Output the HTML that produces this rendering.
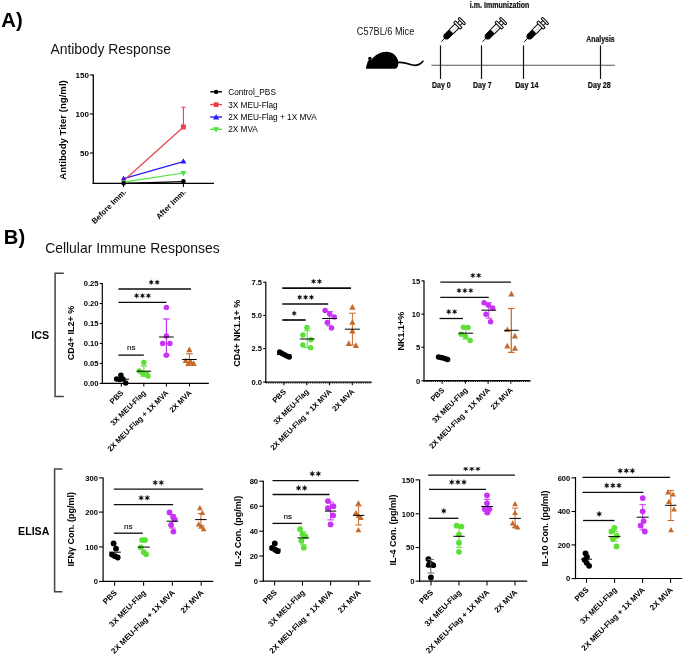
<!DOCTYPE html>
<html><head><meta charset="utf-8"><title>Figure</title>
<style>html,body{margin:0;padding:0;background:#fff}svg{display:block;will-change:transform}</style></head>
<body>
<svg width="685" height="655" viewBox="0 0 685 655">
<rect width="685" height="655" fill="#fff"/>
<text x="1.3" y="27.1" font-family="Liberation Sans, sans-serif" font-size="20.2" font-weight="bold" text-anchor="start" fill="#000" >A)</text>
<text x="50.4" y="53.9" font-family="Liberation Sans, sans-serif" font-size="13.9"  text-anchor="start" fill="#111" >Antibody Response</text>
<text x="3.8" y="244.2" font-family="Liberation Sans, sans-serif" font-size="20.2" font-weight="bold" text-anchor="start" fill="#000" >B)</text>
<text x="45.2" y="252.9" font-family="Liberation Sans, sans-serif" font-size="13.9"  text-anchor="start" fill="#111" >Cellular Immune Responses</text>
<line x1="93.3" y1="74.4" x2="93.3" y2="183.9" stroke="#000" stroke-width="1.3"/>
<line x1="92.7" y1="183.3" x2="214.0" y2="183.3" stroke="#000" stroke-width="1.3"/>
<line x1="89.9" y1="75.0" x2="93.3" y2="75.0" stroke="#000" stroke-width="1.1"/>
<text x="88.9" y="77.9" font-family="Liberation Sans, sans-serif" font-size="8" font-weight="bold" text-anchor="end" fill="#000" >150</text>
<line x1="89.9" y1="114.0" x2="93.3" y2="114.0" stroke="#000" stroke-width="1.1"/>
<text x="88.9" y="116.9" font-family="Liberation Sans, sans-serif" font-size="8" font-weight="bold" text-anchor="end" fill="#000" >100</text>
<line x1="89.9" y1="153.0" x2="93.3" y2="153.0" stroke="#000" stroke-width="1.1"/>
<text x="88.9" y="155.9" font-family="Liberation Sans, sans-serif" font-size="8" font-weight="bold" text-anchor="end" fill="#000" >50</text>
<line x1="123.6" y1="183.3" x2="123.6" y2="186.9" stroke="#000" stroke-width="1.1"/>
<text x="126.6" y="192.5" font-family="Liberation Sans, sans-serif" font-size="7.8" font-weight="bold" text-anchor="end" fill="#000" transform="rotate(-45 126.6 192.5)" >Before Imm.</text>
<line x1="183.4" y1="183.3" x2="183.4" y2="186.9" stroke="#000" stroke-width="1.1"/>
<text x="186.4" y="192.5" font-family="Liberation Sans, sans-serif" font-size="7.8" font-weight="bold" text-anchor="end" fill="#000" transform="rotate(-45 186.4 192.5)" >After Imm.</text>
<text x="66.4" y="130.0" font-family="Liberation Sans, sans-serif" font-size="9.6" font-weight="bold" text-anchor="middle" fill="#000" transform="rotate(-90 66.4 130.0)" >Antibody Titer (ng/ml)</text>
<line x1="123.6" y1="183.3" x2="183.4" y2="181.6" stroke="#000" stroke-width="1.2"/>
<line x1="123.6" y1="182.2" x2="183.4" y2="173.0" stroke="#4fe33c" stroke-width="1.2"/>
<line x1="123.6" y1="178.6" x2="183.4" y2="161.7" stroke="#2a1cf7" stroke-width="1.2"/>
<line x1="123.6" y1="180.8" x2="183.4" y2="127.0" stroke="#e8434f" stroke-width="1.2"/>
<line x1="183.4" y1="107.2" x2="183.4" y2="127.0" stroke="#e8434f" stroke-width="1.1"/>
<line x1="181.4" y1="107.2" x2="185.4" y2="107.2" stroke="#e8434f" stroke-width="1.1"/>
<rect x="180.9" y="124.5" width="5" height="5" fill="#e8434f"/>
<rect x="121.8" y="179.0" width="3.6" height="3.6" fill="#e8434f"/>
<path d="M183.4 158.2 L186.4 163.6 L180.4 163.6Z" fill="#2a1cf7"/>
<path d="M123.6 175.6 L126.2 180.3 L121.0 180.3Z" fill="#2a1cf7"/>
<path d="M183.4 176.4 L186.4 171.0 L180.4 171.0Z" fill="#4fe33c"/>
<path d="M123.6 184.6 L125.8 180.6 L121.4 180.6Z" fill="#4fe33c"/>
<circle cx="183.4" cy="181.4" r="2.3" fill="#000"/>
<circle cx="123.6" cy="183.3" r="2.3" fill="#000"/>
<line x1="210.2" y1="91.8" x2="222.0" y2="91.8" stroke="#000" stroke-width="1.4"/>
<circle cx="216.1" cy="91.9" r="2.2" fill="#000"/>
<text x="228.2" y="94.8" font-family="Liberation Sans, sans-serif" font-size="8.25"  text-anchor="start" fill="#000" >Control_PBS</text>
<line x1="210.2" y1="104.6" x2="222.0" y2="104.6" stroke="#e8434f" stroke-width="1.4"/>
<rect x="213.7" y="102.25" width="4.8" height="4.8" fill="#e8434f"/>
<text x="228.2" y="107.6" font-family="Liberation Sans, sans-serif" font-size="8.25"  text-anchor="start" fill="#000" >3X MEU-Flag</text>
<line x1="210.2" y1="117.0" x2="222.0" y2="117.0" stroke="#2a1cf7" stroke-width="1.4"/>
<path d="M216.1 114.0 L219.2 119.4 L213.0 119.4Z" fill="#2a1cf7"/>
<text x="228.2" y="120.0" font-family="Liberation Sans, sans-serif" font-size="8.25"  text-anchor="start" fill="#000" >2X MEU-Flag + 1X MVA</text>
<line x1="210.2" y1="129.3" x2="222.0" y2="129.3" stroke="#4fe33c" stroke-width="1.4"/>
<path d="M216.1 132.7 L219.2 127.2 L213.0 127.2Z" fill="#4fe33c"/>
<text x="228.2" y="132.3" font-family="Liberation Sans, sans-serif" font-size="8.25"  text-anchor="start" fill="#000" >2X MVA</text>
<text x="356.8" y="34.9" font-family="Liberation Sans, sans-serif" font-size="10.0"  text-anchor="start" fill="#111" textLength="57.5" lengthAdjust="spacingAndGlyphs">C57BL/6 Mice</text>
<line x1="431.4" y1="65.3" x2="614.8" y2="65.3" stroke="#555" stroke-width="1.1"/>
<line x1="440.5" y1="45.4" x2="440.5" y2="78.9" stroke="#111" stroke-width="1.2"/>
<line x1="481.5" y1="45.4" x2="481.5" y2="78.9" stroke="#111" stroke-width="1.2"/>
<line x1="523.5" y1="45.4" x2="523.5" y2="78.9" stroke="#111" stroke-width="1.2"/>
<line x1="600.5" y1="45.4" x2="600.5" y2="78.9" stroke="#111" stroke-width="1.2"/>
<text x="441.3" y="87.5" font-family="Liberation Sans, sans-serif" font-size="8.6" font-weight="bold" text-anchor="middle" fill="#111" textLength="18.6" lengthAdjust="spacingAndGlyphs" stroke="#111" stroke-width="0.22">Day 0</text>
<text x="482.3" y="87.5" font-family="Liberation Sans, sans-serif" font-size="8.6" font-weight="bold" text-anchor="middle" fill="#111" textLength="18.6" lengthAdjust="spacingAndGlyphs" stroke="#111" stroke-width="0.22">Day 7</text>
<text x="526.8" y="87.5" font-family="Liberation Sans, sans-serif" font-size="8.6" font-weight="bold" text-anchor="middle" fill="#111" textLength="23.3" lengthAdjust="spacingAndGlyphs" stroke="#111" stroke-width="0.22">Day 14</text>
<text x="599.3" y="88.0" font-family="Liberation Sans, sans-serif" font-size="8.6" font-weight="bold" text-anchor="middle" fill="#111" textLength="23.0" lengthAdjust="spacingAndGlyphs" stroke="#111" stroke-width="0.22">Day 28</text>
<text x="600.5" y="41.6" font-family="Liberation Sans, sans-serif" font-size="8.6" font-weight="bold" text-anchor="middle" fill="#111" textLength="28.4" lengthAdjust="spacingAndGlyphs" stroke="#111" stroke-width="0.22">Analysis</text>
<text x="499.6" y="7.6" font-family="Liberation Sans, sans-serif" font-size="8.4" font-weight="bold" text-anchor="middle" fill="#111" textLength="59.5" lengthAdjust="spacingAndGlyphs" stroke="#111" stroke-width="0.22">i.m. Immunization</text>
<path d="M366.0 67.3 C366.5 65.4 367.4 62.6 368.2 60.6 L371.6 59.4 C375 55 380.5 51.7 386.5 51.7 C392.6 51.7 397.3 55.8 398.3 61.6 C398.7 64 398.1 66.8 396.7 68 C396.1 68.5 395.5 68.8 394.9 68.8 L367.2 68.8 C366.1 68.8 365.7 68.2 366.0 67.3 Z" fill="#000"/>
<circle cx="369.9" cy="58.6" r="1.75" fill="#000"/>
<path d="M397.6 62.5 C402 62 406 63 409.6 64.3 C413.6 65.7 417.4 65.8 420.2 63.8 C421.5 62.9 422.4 62 422.9 61.3" fill="none" stroke="#000" stroke-width="1.7" stroke-linecap="round"/>
<g transform="translate(441.2 41.7) rotate(45)" stroke="#000" fill="none" stroke-linejoin="round">
<line x1="0" y1="0" x2="0" y2="-5" stroke-width="0.9"/>
<path d="M-0.9 -4.6 L0.9 -4.6 L2.9 -6.8 L2.9 -14 L-2.9 -14 L-2.9 -6.8Z" fill="#000" stroke-width="0.8"/>
<path d="M-2.9 -14 V-22.4 M2.9 -14 V-22.4" stroke-width="1.0"/>
<path d="M1.2 -15.6 h-1.6 M1.2 -17.4 h-1.6 M1.2 -19.2 h-1.6 M1.2 -21 h-1.6" stroke="#555" stroke-width="0.45"/>
<path d="M-4.6 -22.4 Q-5.2 -23.6 -4.6 -24.8 H4.6 Q5.2 -23.6 4.6 -22.4Z" fill="#fff" stroke-width="0.95"/>
<path d="M-1.9 -24.8 V-28.2 M1.9 -24.8 V-28.2" stroke-width="0.95"/>
<rect x="-4.4" y="-30.2" width="8.8" height="2.1" rx="0.9" fill="#fff" stroke-width="0.95"/>
</g>
<g transform="translate(482.5 41.7) rotate(45)" stroke="#000" fill="none" stroke-linejoin="round">
<line x1="0" y1="0" x2="0" y2="-5" stroke-width="0.9"/>
<path d="M-0.9 -4.6 L0.9 -4.6 L2.9 -6.8 L2.9 -14 L-2.9 -14 L-2.9 -6.8Z" fill="#000" stroke-width="0.8"/>
<path d="M-2.9 -14 V-22.4 M2.9 -14 V-22.4" stroke-width="1.0"/>
<path d="M1.2 -15.6 h-1.6 M1.2 -17.4 h-1.6 M1.2 -19.2 h-1.6 M1.2 -21 h-1.6" stroke="#555" stroke-width="0.45"/>
<path d="M-4.6 -22.4 Q-5.2 -23.6 -4.6 -24.8 H4.6 Q5.2 -23.6 4.6 -22.4Z" fill="#fff" stroke-width="0.95"/>
<path d="M-1.9 -24.8 V-28.2 M1.9 -24.8 V-28.2" stroke-width="0.95"/>
<rect x="-4.4" y="-30.2" width="8.8" height="2.1" rx="0.9" fill="#fff" stroke-width="0.95"/>
</g>
<g transform="translate(524.3 41.7) rotate(45)" stroke="#000" fill="none" stroke-linejoin="round">
<line x1="0" y1="0" x2="0" y2="-5" stroke-width="0.9"/>
<path d="M-0.9 -4.6 L0.9 -4.6 L2.9 -6.8 L2.9 -14 L-2.9 -14 L-2.9 -6.8Z" fill="#000" stroke-width="0.8"/>
<path d="M-2.9 -14 V-22.4 M2.9 -14 V-22.4" stroke-width="1.0"/>
<path d="M1.2 -15.6 h-1.6 M1.2 -17.4 h-1.6 M1.2 -19.2 h-1.6 M1.2 -21 h-1.6" stroke="#555" stroke-width="0.45"/>
<path d="M-4.6 -22.4 Q-5.2 -23.6 -4.6 -24.8 H4.6 Q5.2 -23.6 4.6 -22.4Z" fill="#fff" stroke-width="0.95"/>
<path d="M-1.9 -24.8 V-28.2 M1.9 -24.8 V-28.2" stroke-width="0.95"/>
<rect x="-4.4" y="-30.2" width="8.8" height="2.1" rx="0.9" fill="#fff" stroke-width="0.95"/>
</g>
<path d="M63.8 273.2 H55.1 V396.6 H63.8" fill="none" stroke="#444" stroke-width="1.5"/>
<path d="M62.4 469.1 H54.6 V591.7 H62.4" fill="none" stroke="#444" stroke-width="1.5"/>
<text x="40.2" y="338.8" font-family="Liberation Sans, sans-serif" font-size="10.7" font-weight="bold" text-anchor="middle" fill="#000" >ICS</text>
<text x="33.7" y="535.0" font-family="Liberation Sans, sans-serif" font-size="10.6" font-weight="bold" text-anchor="middle" fill="#000" >ELISA</text>
<line x1="102.3" y1="283.0" x2="102.3" y2="384.0" stroke="#000" stroke-width="1.2"/>
<line x1="101.7" y1="383.4" x2="208.8" y2="383.4" stroke="#000" stroke-width="1.2"/>
<line x1="99.7" y1="283.5" x2="102.3" y2="283.5" stroke="#000" stroke-width="1.1"/>
<text x="98.5" y="286.2" font-family="Liberation Sans, sans-serif" font-size="7.6" font-weight="bold" text-anchor="end" fill="#000" >0.25</text>
<line x1="99.7" y1="303.5" x2="102.3" y2="303.5" stroke="#000" stroke-width="1.1"/>
<text x="98.5" y="306.2" font-family="Liberation Sans, sans-serif" font-size="7.6" font-weight="bold" text-anchor="end" fill="#000" >0.20</text>
<line x1="99.7" y1="323.5" x2="102.3" y2="323.5" stroke="#000" stroke-width="1.1"/>
<text x="98.5" y="326.2" font-family="Liberation Sans, sans-serif" font-size="7.6" font-weight="bold" text-anchor="end" fill="#000" >0.15</text>
<line x1="99.7" y1="343.4" x2="102.3" y2="343.4" stroke="#000" stroke-width="1.1"/>
<text x="98.5" y="346.1" font-family="Liberation Sans, sans-serif" font-size="7.6" font-weight="bold" text-anchor="end" fill="#000" >0.10</text>
<line x1="99.7" y1="363.4" x2="102.3" y2="363.4" stroke="#000" stroke-width="1.1"/>
<text x="98.5" y="366.1" font-family="Liberation Sans, sans-serif" font-size="7.6" font-weight="bold" text-anchor="end" fill="#000" >0.05</text>
<line x1="99.7" y1="383.4" x2="102.3" y2="383.4" stroke="#000" stroke-width="1.1"/>
<text x="98.5" y="386.1" font-family="Liberation Sans, sans-serif" font-size="7.6" font-weight="bold" text-anchor="end" fill="#000" >0.00</text>
<line x1="121.3" y1="383.4" x2="121.3" y2="386.4" stroke="#000" stroke-width="1.05"/>
<text x="123.9" y="393.4" font-family="Liberation Sans, sans-serif" font-size="7.6" font-weight="bold" text-anchor="end" fill="#000" transform="rotate(-45 123.9 393.4)" >PBS</text>
<line x1="143.8" y1="383.4" x2="143.8" y2="386.4" stroke="#000" stroke-width="1.05"/>
<text x="146.4" y="393.4" font-family="Liberation Sans, sans-serif" font-size="7.6" font-weight="bold" text-anchor="end" fill="#000" transform="rotate(-45 146.4 393.4)" >3X MEU-Flag</text>
<line x1="166.4" y1="383.4" x2="166.4" y2="386.4" stroke="#000" stroke-width="1.05"/>
<text x="169.0" y="393.4" font-family="Liberation Sans, sans-serif" font-size="7.6" font-weight="bold" text-anchor="end" fill="#000" transform="rotate(-45 169.0 393.4)" >2X MEU-Flag + 1X MVA</text>
<line x1="189.5" y1="383.4" x2="189.5" y2="386.4" stroke="#000" stroke-width="1.05"/>
<text x="192.1" y="393.4" font-family="Liberation Sans, sans-serif" font-size="7.6" font-weight="bold" text-anchor="end" fill="#000" transform="rotate(-45 192.1 393.4)" >2X MVA</text>
<circle cx="120.9" cy="375.2" r="2.75" fill="#000"/>
<circle cx="116.6" cy="379.0" r="2.75" fill="#000"/>
<circle cx="119.7" cy="379.6" r="2.75" fill="#000"/>
<circle cx="122.9" cy="379.0" r="2.75" fill="#000"/>
<circle cx="125.7" cy="383.0" r="2.75" fill="#000"/>
<line x1="117.6" y1="379.2" x2="129.0" y2="379.2" stroke="#000" stroke-width="1.0"/>
<circle cx="143.9" cy="362.5" r="2.75" fill="#5ddf38"/>
<circle cx="139.3" cy="370.9" r="2.75" fill="#5ddf38"/>
<circle cx="142.7" cy="373.2" r="2.75" fill="#5ddf38"/>
<circle cx="146.6" cy="373.9" r="2.75" fill="#5ddf38"/>
<circle cx="148.0" cy="375.9" r="2.75" fill="#5ddf38"/>
<line x1="143.9" y1="366.0" x2="143.9" y2="376.3" stroke="#5ddf38" stroke-width="1.1"/>
<line x1="140.6" y1="366.0" x2="147.2" y2="366.0" stroke="#5ddf38" stroke-width="1.1"/>
<line x1="140.6" y1="376.3" x2="147.2" y2="376.3" stroke="#5ddf38" stroke-width="1.1"/>
<line x1="136.7" y1="371.2" x2="151.1" y2="371.2" stroke="#000" stroke-width="1.0"/>
<circle cx="166.4" cy="307.6" r="2.75" fill="#c733f5"/>
<circle cx="166.4" cy="336.0" r="2.75" fill="#c733f5"/>
<circle cx="162.7" cy="343.4" r="2.75" fill="#c733f5"/>
<circle cx="169.9" cy="343.4" r="2.75" fill="#c733f5"/>
<circle cx="166.4" cy="355.2" r="2.75" fill="#c733f5"/>
<line x1="166.4" y1="319.0" x2="166.4" y2="355.2" stroke="#c733f5" stroke-width="1.2"/>
<line x1="163.1" y1="319.0" x2="169.7" y2="319.0" stroke="#c733f5" stroke-width="1.2"/>
<line x1="163.1" y1="355.2" x2="169.7" y2="355.2" stroke="#c733f5" stroke-width="1.2"/>
<line x1="159.1" y1="337.0" x2="173.7" y2="337.0" stroke="#000" stroke-width="1.0"/>
<path d="M189.4 346.6 L192.5 352.2 L186.3 352.2Z" fill="#c8692a"/>
<path d="M185.7 357.3 L188.8 362.9 L182.6 362.9Z" fill="#c8692a"/>
<path d="M188.3 360.3 L191.4 365.9 L185.2 365.9Z" fill="#c8692a"/>
<path d="M191.0 358.9 L194.1 364.5 L187.9 364.5Z" fill="#c8692a"/>
<path d="M193.7 360.3 L196.8 365.9 L190.6 365.9Z" fill="#c8692a"/>
<line x1="189.4" y1="353.8" x2="189.4" y2="365.5" stroke="#c8692a" stroke-width="1.1"/>
<line x1="186.1" y1="353.8" x2="192.7" y2="353.8" stroke="#c8692a" stroke-width="1.1"/>
<line x1="186.1" y1="365.5" x2="192.7" y2="365.5" stroke="#c8692a" stroke-width="1.1"/>
<line x1="182.1" y1="359.5" x2="196.7" y2="359.5" stroke="#000" stroke-width="1.0"/>
<line x1="118.4" y1="289.0" x2="191.0" y2="289.0" stroke="#0c0c0c" stroke-width="1.3"/>
<polygon points="151.25,279.75 150.73,281.35 149.08,281.00 150.21,282.25 149.08,283.50 150.73,283.15 151.25,284.75 151.77,283.15 153.42,283.50 152.29,282.25 153.42,281.00 151.77,281.35" fill="#0a0a0a" stroke="#0a0a0a" stroke-width="0.35" stroke-linejoin="round"/>
<polygon points="157.15,279.75 156.63,281.35 154.98,281.00 156.11,282.25 154.98,283.50 156.63,283.15 157.15,284.75 157.67,283.15 159.32,283.50 158.19,282.25 159.32,281.00 157.67,281.35" fill="#0a0a0a" stroke="#0a0a0a" stroke-width="0.35" stroke-linejoin="round"/>
<line x1="118.4" y1="302.4" x2="166.4" y2="302.4" stroke="#0c0c0c" stroke-width="1.3"/>
<polygon points="136.60,293.25 136.08,294.85 134.43,294.50 135.56,295.75 134.43,297.00 136.08,296.65 136.60,298.25 137.12,296.65 138.77,297.00 137.64,295.75 138.77,294.50 137.12,294.85" fill="#0a0a0a" stroke="#0a0a0a" stroke-width="0.35" stroke-linejoin="round"/>
<polygon points="142.50,293.25 141.98,294.85 140.33,294.50 141.46,295.75 140.33,297.00 141.98,296.65 142.50,298.25 143.02,296.65 144.67,297.00 143.54,295.75 144.67,294.50 143.02,294.85" fill="#0a0a0a" stroke="#0a0a0a" stroke-width="0.35" stroke-linejoin="round"/>
<polygon points="148.40,293.25 147.88,294.85 146.23,294.50 147.36,295.75 146.23,297.00 147.88,296.65 148.40,298.25 148.92,296.65 150.57,297.00 149.44,295.75 150.57,294.50 148.92,294.85" fill="#0a0a0a" stroke="#0a0a0a" stroke-width="0.35" stroke-linejoin="round"/>
<line x1="118.4" y1="355.1" x2="143.8" y2="355.1" stroke="#0c0c0c" stroke-width="1.3"/>
<text x="131.4" y="350.4" font-family="Liberation Sans, sans-serif" font-size="8.1"  text-anchor="middle" fill="#000" stroke="#000" stroke-width="0.12">ns</text>
<text x="74.4" y="333.0" font-family="Liberation Sans, sans-serif" font-size="9" font-weight="bold" text-anchor="middle" fill="#000" transform="rotate(-90 74.4 333.0)" >CD4+ IL2+ %</text>
<line x1="265.8" y1="281.7" x2="265.8" y2="382.8" stroke="#000" stroke-width="1.2"/>
<line x1="265.2" y1="382.2" x2="371.6" y2="382.2" stroke="#000" stroke-width="1.2"/>
<line x1="265.8" y1="383.0" x2="371.6" y2="383.0" stroke="#000" stroke-width="0.9" stroke-dasharray="1.3 0.9"/>
<line x1="263.2" y1="282.2" x2="265.8" y2="282.2" stroke="#000" stroke-width="1.1"/>
<text x="262.0" y="284.9" font-family="Liberation Sans, sans-serif" font-size="7.6" font-weight="bold" text-anchor="end" fill="#000" >7.5</text>
<line x1="263.2" y1="315.4" x2="265.8" y2="315.4" stroke="#000" stroke-width="1.1"/>
<text x="262.0" y="318.1" font-family="Liberation Sans, sans-serif" font-size="7.6" font-weight="bold" text-anchor="end" fill="#000" >5.0</text>
<line x1="263.2" y1="348.6" x2="265.8" y2="348.6" stroke="#000" stroke-width="1.1"/>
<text x="262.0" y="351.3" font-family="Liberation Sans, sans-serif" font-size="7.6" font-weight="bold" text-anchor="end" fill="#000" >2.5</text>
<line x1="263.2" y1="382.1" x2="265.8" y2="382.1" stroke="#000" stroke-width="1.1"/>
<text x="262.0" y="384.8" font-family="Liberation Sans, sans-serif" font-size="7.6" font-weight="bold" text-anchor="end" fill="#000" >0.0</text>
<line x1="283.9" y1="382.2" x2="283.9" y2="385.2" stroke="#000" stroke-width="1.05"/>
<text x="286.5" y="392.2" font-family="Liberation Sans, sans-serif" font-size="7.6" font-weight="bold" text-anchor="end" fill="#000" transform="rotate(-45 286.5 392.2)" >PBS</text>
<line x1="306.8" y1="382.2" x2="306.8" y2="385.2" stroke="#000" stroke-width="1.05"/>
<text x="309.4" y="392.2" font-family="Liberation Sans, sans-serif" font-size="7.6" font-weight="bold" text-anchor="end" fill="#000" transform="rotate(-45 309.4 392.2)" >3X MEU-Flag</text>
<line x1="329.5" y1="382.2" x2="329.5" y2="385.2" stroke="#000" stroke-width="1.05"/>
<text x="332.1" y="392.2" font-family="Liberation Sans, sans-serif" font-size="7.6" font-weight="bold" text-anchor="end" fill="#000" transform="rotate(-45 332.1 392.2)" >2X MEU-Flag + 1X MVA</text>
<line x1="352.3" y1="382.2" x2="352.3" y2="385.2" stroke="#000" stroke-width="1.05"/>
<text x="354.9" y="392.2" font-family="Liberation Sans, sans-serif" font-size="7.6" font-weight="bold" text-anchor="end" fill="#000" transform="rotate(-45 354.9 392.2)" >2X MVA</text>
<circle cx="279.7" cy="351.9" r="2.75" fill="#000"/>
<circle cx="282.1" cy="353.5" r="2.75" fill="#000"/>
<circle cx="284.5" cy="354.7" r="2.75" fill="#000"/>
<circle cx="286.9" cy="355.9" r="2.75" fill="#000"/>
<circle cx="289.2" cy="357.1" r="2.75" fill="#000"/>
<line x1="277.0" y1="354.6" x2="291.4" y2="354.6" stroke="#000" stroke-width="1.0"/>
<circle cx="307.0" cy="327.6" r="2.75" fill="#5ddf38"/>
<circle cx="302.9" cy="335.0" r="2.75" fill="#5ddf38"/>
<circle cx="311.0" cy="339.7" r="2.75" fill="#5ddf38"/>
<circle cx="302.9" cy="345.0" r="2.75" fill="#5ddf38"/>
<circle cx="310.6" cy="347.7" r="2.75" fill="#5ddf38"/>
<line x1="307.2" y1="330.8" x2="307.2" y2="347.4" stroke="#5ddf38" stroke-width="1.0"/>
<line x1="303.9" y1="330.8" x2="310.5" y2="330.8" stroke="#5ddf38" stroke-width="1.0"/>
<line x1="303.9" y1="347.4" x2="310.5" y2="347.4" stroke="#5ddf38" stroke-width="1.0"/>
<line x1="299.8" y1="339.0" x2="314.6" y2="339.0" stroke="#000" stroke-width="1.0"/>
<circle cx="325.1" cy="310.5" r="2.75" fill="#c733f5"/>
<circle cx="329.7" cy="314.0" r="2.75" fill="#c733f5"/>
<circle cx="334.2" cy="317.1" r="2.75" fill="#c733f5"/>
<circle cx="327.3" cy="322.6" r="2.75" fill="#c733f5"/>
<circle cx="331.5" cy="327.9" r="2.75" fill="#c733f5"/>
<line x1="329.6" y1="311.6" x2="329.6" y2="326.0" stroke="#c733f5" stroke-width="1.0"/>
<line x1="326.3" y1="311.6" x2="332.9" y2="311.6" stroke="#c733f5" stroke-width="1.0"/>
<line x1="326.3" y1="326.0" x2="332.9" y2="326.0" stroke="#c733f5" stroke-width="1.0"/>
<line x1="322.2" y1="318.5" x2="337.0" y2="318.5" stroke="#000" stroke-width="1.0"/>
<path d="M352.4 304.1 L355.5 309.7 L349.3 309.7Z" fill="#c8692a"/>
<path d="M352.4 319.1 L355.5 324.7 L349.3 324.7Z" fill="#c8692a"/>
<path d="M352.4 327.8 L355.5 333.4 L349.3 333.4Z" fill="#c8692a"/>
<path d="M348.8 340.3 L351.9 345.9 L345.7 345.9Z" fill="#c8692a"/>
<path d="M355.9 342.3 L359.0 347.9 L352.8 347.9Z" fill="#c8692a"/>
<line x1="352.4" y1="313.2" x2="352.4" y2="345.1" stroke="#c8692a" stroke-width="1.0"/>
<line x1="349.1" y1="313.2" x2="355.7" y2="313.2" stroke="#c8692a" stroke-width="1.0"/>
<line x1="349.1" y1="345.1" x2="355.7" y2="345.1" stroke="#c8692a" stroke-width="1.0"/>
<line x1="344.9" y1="329.2" x2="359.9" y2="329.2" stroke="#000" stroke-width="1.0"/>
<line x1="282.3" y1="288.2" x2="351.0" y2="288.2" stroke="#0c0c0c" stroke-width="1.7000000000000002"/>
<polygon points="313.55,278.95 313.03,280.55 311.38,280.20 312.51,281.45 311.38,282.70 313.03,282.35 313.55,283.95 314.07,282.35 315.72,282.70 314.59,281.45 315.72,280.20 314.07,280.55" fill="#0a0a0a" stroke="#0a0a0a" stroke-width="0.35" stroke-linejoin="round"/>
<polygon points="319.45,278.95 318.93,280.55 317.28,280.20 318.41,281.45 317.28,282.70 318.93,282.35 319.45,283.95 319.97,282.35 321.62,282.70 320.49,281.45 321.62,280.20 319.97,280.55" fill="#0a0a0a" stroke="#0a0a0a" stroke-width="0.35" stroke-linejoin="round"/>
<line x1="282.3" y1="304.0" x2="328.2" y2="304.0" stroke="#0c0c0c" stroke-width="1.7000000000000002"/>
<polygon points="299.70,294.75 299.18,296.35 297.53,296.00 298.66,297.25 297.53,298.50 299.18,298.15 299.70,299.75 300.22,298.15 301.87,298.50 300.74,297.25 301.87,296.00 300.22,296.35" fill="#0a0a0a" stroke="#0a0a0a" stroke-width="0.35" stroke-linejoin="round"/>
<polygon points="305.60,294.75 305.08,296.35 303.43,296.00 304.56,297.25 303.43,298.50 305.08,298.15 305.60,299.75 306.12,298.15 307.77,298.50 306.64,297.25 307.77,296.00 306.12,296.35" fill="#0a0a0a" stroke="#0a0a0a" stroke-width="0.35" stroke-linejoin="round"/>
<polygon points="311.50,294.75 310.98,296.35 309.33,296.00 310.46,297.25 309.33,298.50 310.98,298.15 311.50,299.75 312.02,298.15 313.67,298.50 312.54,297.25 313.67,296.00 312.02,296.35" fill="#0a0a0a" stroke="#0a0a0a" stroke-width="0.35" stroke-linejoin="round"/>
<line x1="282.3" y1="320.0" x2="305.6" y2="320.0" stroke="#0c0c0c" stroke-width="1.7000000000000002"/>
<polygon points="294.20,310.85 293.68,312.45 292.03,312.10 293.16,313.35 292.03,314.60 293.68,314.25 294.20,315.85 294.72,314.25 296.37,314.60 295.24,313.35 296.37,312.10 294.72,312.45" fill="#0a0a0a" stroke="#0a0a0a" stroke-width="0.35" stroke-linejoin="round"/>
<text x="240.1" y="333.3" font-family="Liberation Sans, sans-serif" font-size="9" font-weight="bold" text-anchor="middle" fill="#000" transform="rotate(-90 240.1 333.3)" >CD4+ NK1.1+ %</text>
<line x1="424.0" y1="280.4" x2="424.0" y2="381.3" stroke="#000" stroke-width="1.2"/>
<line x1="423.4" y1="380.7" x2="530.4" y2="380.7" stroke="#000" stroke-width="1.2"/>
<line x1="424.0" y1="381.5" x2="530.4" y2="381.5" stroke="#000" stroke-width="0.9" stroke-dasharray="1.3 0.9"/>
<line x1="421.4" y1="280.9" x2="424.0" y2="280.9" stroke="#000" stroke-width="1.1"/>
<text x="420.2" y="283.6" font-family="Liberation Sans, sans-serif" font-size="7.6" font-weight="bold" text-anchor="end" fill="#000" >15</text>
<line x1="421.4" y1="314.1" x2="424.0" y2="314.1" stroke="#000" stroke-width="1.1"/>
<text x="420.2" y="316.8" font-family="Liberation Sans, sans-serif" font-size="7.6" font-weight="bold" text-anchor="end" fill="#000" >10</text>
<line x1="421.4" y1="347.3" x2="424.0" y2="347.3" stroke="#000" stroke-width="1.1"/>
<text x="420.2" y="350.0" font-family="Liberation Sans, sans-serif" font-size="7.6" font-weight="bold" text-anchor="end" fill="#000" >5</text>
<line x1="421.4" y1="380.8" x2="424.0" y2="380.8" stroke="#000" stroke-width="1.1"/>
<text x="420.2" y="383.5" font-family="Liberation Sans, sans-serif" font-size="7.6" font-weight="bold" text-anchor="end" fill="#000" >0</text>
<line x1="442.2" y1="380.7" x2="442.2" y2="383.7" stroke="#000" stroke-width="1.05"/>
<text x="444.8" y="390.7" font-family="Liberation Sans, sans-serif" font-size="7.6" font-weight="bold" text-anchor="end" fill="#000" transform="rotate(-45 444.8 390.7)" >PBS</text>
<line x1="465.4" y1="380.7" x2="465.4" y2="383.7" stroke="#000" stroke-width="1.05"/>
<text x="468.0" y="390.7" font-family="Liberation Sans, sans-serif" font-size="7.6" font-weight="bold" text-anchor="end" fill="#000" transform="rotate(-45 468.0 390.7)" >3X MEU-Flag</text>
<line x1="488.1" y1="380.7" x2="488.1" y2="383.7" stroke="#000" stroke-width="1.05"/>
<text x="490.7" y="390.7" font-family="Liberation Sans, sans-serif" font-size="7.6" font-weight="bold" text-anchor="end" fill="#000" transform="rotate(-45 490.7 390.7)" >2X MEU-Flag + 1X MVA</text>
<line x1="510.8" y1="380.7" x2="510.8" y2="383.7" stroke="#000" stroke-width="1.05"/>
<text x="513.4" y="390.7" font-family="Liberation Sans, sans-serif" font-size="7.6" font-weight="bold" text-anchor="end" fill="#000" transform="rotate(-45 513.4 390.7)" >2X MVA</text>
<circle cx="438.5" cy="357.0" r="2.75" fill="#000"/>
<circle cx="440.8" cy="357.4" r="2.75" fill="#000"/>
<circle cx="443.2" cy="358.0" r="2.75" fill="#000"/>
<circle cx="445.4" cy="358.8" r="2.75" fill="#000"/>
<circle cx="447.6" cy="359.4" r="2.75" fill="#000"/>
<line x1="437.5" y1="358.2" x2="448.5" y2="358.2" stroke="#000" stroke-width="1.0"/>
<circle cx="463.5" cy="327.3" r="2.75" fill="#5ddf38"/>
<circle cx="468.0" cy="327.6" r="2.75" fill="#5ddf38"/>
<circle cx="461.2" cy="334.2" r="2.75" fill="#5ddf38"/>
<circle cx="465.6" cy="336.4" r="2.75" fill="#5ddf38"/>
<circle cx="470.2" cy="340.5" r="2.75" fill="#5ddf38"/>
<line x1="465.8" y1="328.4" x2="465.8" y2="339.0" stroke="#5ddf38" stroke-width="1.0"/>
<line x1="462.5" y1="328.4" x2="469.1" y2="328.4" stroke="#5ddf38" stroke-width="1.0"/>
<line x1="462.5" y1="339.0" x2="469.1" y2="339.0" stroke="#5ddf38" stroke-width="1.0"/>
<line x1="458.4" y1="333.2" x2="473.2" y2="333.2" stroke="#000" stroke-width="1.0"/>
<circle cx="484.1" cy="302.8" r="2.75" fill="#c733f5"/>
<circle cx="488.4" cy="305.2" r="2.75" fill="#c733f5"/>
<circle cx="492.7" cy="308.1" r="2.75" fill="#c733f5"/>
<circle cx="486.0" cy="314.2" r="2.75" fill="#c733f5"/>
<circle cx="490.6" cy="321.8" r="2.75" fill="#c733f5"/>
<line x1="488.8" y1="302.8" x2="488.8" y2="318.2" stroke="#c733f5" stroke-width="1.0"/>
<line x1="485.5" y1="302.8" x2="492.1" y2="302.8" stroke="#c733f5" stroke-width="1.0"/>
<line x1="485.5" y1="318.2" x2="492.1" y2="318.2" stroke="#c733f5" stroke-width="1.0"/>
<line x1="481.4" y1="310.2" x2="496.2" y2="310.2" stroke="#000" stroke-width="1.0"/>
<path d="M511.4 290.8 L514.5 296.4 L508.3 296.4Z" fill="#c8692a"/>
<path d="M507.4 326.5 L510.5 332.1 L504.3 332.1Z" fill="#c8692a"/>
<path d="M514.9 332.8 L518.0 338.4 L511.8 338.4Z" fill="#c8692a"/>
<path d="M507.3 342.8 L510.4 348.4 L504.2 348.4Z" fill="#c8692a"/>
<path d="M514.9 345.1 L518.0 350.7 L511.8 350.7Z" fill="#c8692a"/>
<line x1="511.3" y1="308.5" x2="511.3" y2="352.4" stroke="#c8692a" stroke-width="1.25"/>
<line x1="508.0" y1="308.5" x2="514.6" y2="308.5" stroke="#c8692a" stroke-width="1.25"/>
<line x1="508.0" y1="352.4" x2="514.6" y2="352.4" stroke="#c8692a" stroke-width="1.25"/>
<line x1="503.9" y1="330.3" x2="518.7" y2="330.3" stroke="#000" stroke-width="1.0"/>
<line x1="440.3" y1="282.2" x2="510.9" y2="282.2" stroke="#0c0c0c" stroke-width="1.3"/>
<polygon points="472.85,272.95 472.33,274.55 470.68,274.20 471.81,275.45 470.68,276.70 472.33,276.35 472.85,277.95 473.37,276.35 475.02,276.70 473.89,275.45 475.02,274.20 473.37,274.55" fill="#0a0a0a" stroke="#0a0a0a" stroke-width="0.35" stroke-linejoin="round"/>
<polygon points="478.75,272.95 478.23,274.55 476.58,274.20 477.71,275.45 476.58,276.70 478.23,276.35 478.75,277.95 479.27,276.35 480.92,276.70 479.79,275.45 480.92,274.20 479.27,274.55" fill="#0a0a0a" stroke="#0a0a0a" stroke-width="0.35" stroke-linejoin="round"/>
<line x1="440.3" y1="297.3" x2="488.8" y2="297.3" stroke="#0c0c0c" stroke-width="1.3"/>
<polygon points="459.00,288.05 458.48,289.65 456.83,289.30 457.96,290.55 456.83,291.80 458.48,291.45 459.00,293.05 459.52,291.45 461.17,291.80 460.04,290.55 461.17,289.30 459.52,289.65" fill="#0a0a0a" stroke="#0a0a0a" stroke-width="0.35" stroke-linejoin="round"/>
<polygon points="464.90,288.05 464.38,289.65 462.73,289.30 463.86,290.55 462.73,291.80 464.38,291.45 464.90,293.05 465.42,291.45 467.07,291.80 465.94,290.55 467.07,289.30 465.42,289.65" fill="#0a0a0a" stroke="#0a0a0a" stroke-width="0.35" stroke-linejoin="round"/>
<polygon points="470.80,288.05 470.28,289.65 468.63,289.30 469.76,290.55 468.63,291.80 470.28,291.45 470.80,293.05 471.32,291.45 472.97,291.80 471.84,290.55 472.97,289.30 471.32,289.65" fill="#0a0a0a" stroke="#0a0a0a" stroke-width="0.35" stroke-linejoin="round"/>
<line x1="439.5" y1="318.5" x2="462.9" y2="318.5" stroke="#0c0c0c" stroke-width="1.3"/>
<polygon points="448.75,309.25 448.23,310.85 446.58,310.50 447.71,311.75 446.58,313.00 448.23,312.65 448.75,314.25 449.27,312.65 450.92,313.00 449.79,311.75 450.92,310.50 449.27,310.85" fill="#0a0a0a" stroke="#0a0a0a" stroke-width="0.35" stroke-linejoin="round"/>
<polygon points="454.65,309.25 454.13,310.85 452.48,310.50 453.61,311.75 452.48,313.00 454.13,312.65 454.65,314.25 455.17,312.65 456.82,313.00 455.69,311.75 456.82,310.50 455.17,310.85" fill="#0a0a0a" stroke="#0a0a0a" stroke-width="0.35" stroke-linejoin="round"/>
<text x="404.4" y="331.0" font-family="Liberation Sans, sans-serif" font-size="9" font-weight="bold" text-anchor="middle" fill="#000" transform="rotate(-90 404.4 331.0)" >NK1.1+%</text>
<line x1="103.1" y1="477.4" x2="103.1" y2="582.0" stroke="#000" stroke-width="1.2"/>
<line x1="102.5" y1="581.4" x2="213.3" y2="581.4" stroke="#000" stroke-width="1.2"/>
<line x1="99.1" y1="477.9" x2="103.1" y2="477.9" stroke="#000" stroke-width="1.1"/>
<text x="97.9" y="480.6" font-family="Liberation Sans, sans-serif" font-size="7.6" font-weight="bold" text-anchor="end" fill="#000" >300</text>
<line x1="99.1" y1="512.1" x2="103.1" y2="512.1" stroke="#000" stroke-width="1.1"/>
<text x="97.9" y="514.8" font-family="Liberation Sans, sans-serif" font-size="7.6" font-weight="bold" text-anchor="end" fill="#000" >200</text>
<line x1="99.1" y1="546.9" x2="103.1" y2="546.9" stroke="#000" stroke-width="1.1"/>
<text x="97.9" y="549.6" font-family="Liberation Sans, sans-serif" font-size="7.6" font-weight="bold" text-anchor="end" fill="#000" >100</text>
<line x1="99.1" y1="581.5" x2="103.1" y2="581.5" stroke="#000" stroke-width="1.1"/>
<text x="97.9" y="584.2" font-family="Liberation Sans, sans-serif" font-size="7.6" font-weight="bold" text-anchor="end" fill="#000" >0</text>
<line x1="114.6" y1="581.4" x2="114.6" y2="585.8" stroke="#000" stroke-width="1.05"/>
<text x="117.4" y="593.3" font-family="Liberation Sans, sans-serif" font-size="7.9" font-weight="bold" text-anchor="end" fill="#000" transform="rotate(-45 117.4 593.3)" >PBS</text>
<line x1="143.6" y1="581.4" x2="143.6" y2="585.8" stroke="#000" stroke-width="1.05"/>
<text x="146.4" y="593.3" font-family="Liberation Sans, sans-serif" font-size="7.9" font-weight="bold" text-anchor="end" fill="#000" transform="rotate(-45 146.4 593.3)" >3X MEU-Flag</text>
<line x1="172.4" y1="581.4" x2="172.4" y2="585.8" stroke="#000" stroke-width="1.05"/>
<text x="175.2" y="593.3" font-family="Liberation Sans, sans-serif" font-size="7.9" font-weight="bold" text-anchor="end" fill="#000" transform="rotate(-45 175.2 593.3)" >2X MEU-Flag + 1X MVA</text>
<line x1="201.2" y1="581.4" x2="201.2" y2="585.8" stroke="#000" stroke-width="1.05"/>
<text x="204.0" y="593.3" font-family="Liberation Sans, sans-serif" font-size="7.9" font-weight="bold" text-anchor="end" fill="#000" transform="rotate(-45 204.0 593.3)" >2X MVA</text>
<circle cx="113.6" cy="543.4" r="2.9" fill="#000"/>
<circle cx="116.0" cy="548.7" r="2.9" fill="#000"/>
<circle cx="112.0" cy="554.6" r="2.9" fill="#000"/>
<circle cx="114.9" cy="556.2" r="2.9" fill="#000"/>
<circle cx="117.7" cy="557.5" r="2.9" fill="#000"/>
<line x1="109.1" y1="552.2" x2="120.9" y2="552.2" stroke="#000" stroke-width="1.0"/>
<circle cx="142.1" cy="540.1" r="2.9" fill="#5ddf38"/>
<circle cx="145.0" cy="540.1" r="2.9" fill="#5ddf38"/>
<circle cx="140.9" cy="547.4" r="2.9" fill="#5ddf38"/>
<circle cx="143.8" cy="552.2" r="2.9" fill="#5ddf38"/>
<circle cx="146.1" cy="554.3" r="2.9" fill="#5ddf38"/>
<line x1="137.8" y1="547.1" x2="149.8" y2="547.1" stroke="#000" stroke-width="1.0"/>
<circle cx="169.5" cy="512.5" r="2.9" fill="#c733f5"/>
<circle cx="173.1" cy="516.9" r="2.9" fill="#c733f5"/>
<circle cx="174.7" cy="519.3" r="2.9" fill="#c733f5"/>
<circle cx="171.1" cy="524.9" r="2.9" fill="#c733f5"/>
<circle cx="173.4" cy="531.6" r="2.9" fill="#c733f5"/>
<line x1="172.4" y1="514.5" x2="172.4" y2="528.1" stroke="#c733f5" stroke-width="1.0"/>
<line x1="169.1" y1="514.5" x2="175.7" y2="514.5" stroke="#c733f5" stroke-width="1.0"/>
<line x1="169.1" y1="528.1" x2="175.7" y2="528.1" stroke="#c733f5" stroke-width="1.0"/>
<line x1="166.6" y1="521.2" x2="178.2" y2="521.2" stroke="#000" stroke-width="1.0"/>
<path d="M199.9 505.1 L202.8 510.3 L197.0 510.3Z" fill="#c8692a"/>
<path d="M202.3 509.9 L205.2 515.1 L199.4 515.1Z" fill="#c8692a"/>
<path d="M198.7 521.2 L201.6 526.4 L195.8 526.4Z" fill="#c8692a"/>
<path d="M201.2 523.6 L204.1 528.8 L198.3 528.8Z" fill="#c8692a"/>
<path d="M203.6 526.0 L206.5 531.2 L200.7 531.2Z" fill="#c8692a"/>
<line x1="200.9" y1="513.6" x2="200.9" y2="525.7" stroke="#c8692a" stroke-width="1.0"/>
<line x1="197.6" y1="513.6" x2="204.2" y2="513.6" stroke="#c8692a" stroke-width="1.0"/>
<line x1="197.6" y1="525.7" x2="204.2" y2="525.7" stroke="#c8692a" stroke-width="1.0"/>
<line x1="195.2" y1="519.6" x2="206.6" y2="519.6" stroke="#000" stroke-width="1.0"/>
<line x1="113.8" y1="489.2" x2="203.1" y2="489.2" stroke="#0c0c0c" stroke-width="1.3"/>
<polygon points="155.15,479.95 154.59,481.68 152.81,481.30 154.03,482.65 152.81,484.00 154.59,483.62 155.15,485.35 155.71,483.62 157.49,484.00 156.27,482.65 157.49,481.30 155.71,481.68" fill="#0a0a0a" stroke="#0a0a0a" stroke-width="0.35" stroke-linejoin="round"/>
<polygon points="161.25,479.95 160.69,481.68 158.91,481.30 160.13,482.65 158.91,484.00 160.69,483.62 161.25,485.35 161.81,483.62 163.59,484.00 162.37,482.65 163.59,481.30 161.81,481.68" fill="#0a0a0a" stroke="#0a0a0a" stroke-width="0.35" stroke-linejoin="round"/>
<line x1="113.8" y1="504.7" x2="173.1" y2="504.7" stroke="#0c0c0c" stroke-width="1.3"/>
<polygon points="141.15,495.15 140.59,496.88 138.81,496.50 140.03,497.85 138.81,499.20 140.59,498.82 141.15,500.55 141.71,498.82 143.49,499.20 142.27,497.85 143.49,496.50 141.71,496.88" fill="#0a0a0a" stroke="#0a0a0a" stroke-width="0.35" stroke-linejoin="round"/>
<polygon points="147.25,495.15 146.69,496.88 144.91,496.50 146.13,497.85 144.91,499.20 146.69,498.82 147.25,500.55 147.81,498.82 149.59,499.20 148.37,497.85 149.59,496.50 147.81,496.88" fill="#0a0a0a" stroke="#0a0a0a" stroke-width="0.35" stroke-linejoin="round"/>
<line x1="113.8" y1="533.2" x2="142.7" y2="533.2" stroke="#0c0c0c" stroke-width="1.3"/>
<text x="128.4" y="528.6" font-family="Liberation Sans, sans-serif" font-size="8.1"  text-anchor="middle" fill="#000" stroke="#000" stroke-width="0.12">ns</text>
<text x="74.5" y="529.2" font-family="Liberation Sans, sans-serif" font-size="9" font-weight="bold" text-anchor="middle" fill="#000" transform="rotate(-90 74.5 529.2)" >IFNγ Con. (pg/ml)</text>
<line x1="263.3" y1="480.7" x2="263.3" y2="581.8" stroke="#000" stroke-width="1.2"/>
<line x1="262.7" y1="581.2" x2="370.6" y2="581.2" stroke="#000" stroke-width="1.2"/>
<line x1="259.3" y1="481.2" x2="263.3" y2="481.2" stroke="#000" stroke-width="1.1"/>
<text x="258.1" y="483.9" font-family="Liberation Sans, sans-serif" font-size="7.6" font-weight="bold" text-anchor="end" fill="#000" >80</text>
<line x1="259.3" y1="506.2" x2="263.3" y2="506.2" stroke="#000" stroke-width="1.1"/>
<text x="258.1" y="508.9" font-family="Liberation Sans, sans-serif" font-size="7.6" font-weight="bold" text-anchor="end" fill="#000" >60</text>
<line x1="259.3" y1="531.2" x2="263.3" y2="531.2" stroke="#000" stroke-width="1.1"/>
<text x="258.1" y="533.9" font-family="Liberation Sans, sans-serif" font-size="7.6" font-weight="bold" text-anchor="end" fill="#000" >40</text>
<line x1="259.3" y1="556.0" x2="263.3" y2="556.0" stroke="#000" stroke-width="1.1"/>
<text x="258.1" y="558.7" font-family="Liberation Sans, sans-serif" font-size="7.6" font-weight="bold" text-anchor="end" fill="#000" >20</text>
<line x1="259.3" y1="581.2" x2="263.3" y2="581.2" stroke="#000" stroke-width="1.1"/>
<text x="258.1" y="583.9" font-family="Liberation Sans, sans-serif" font-size="7.6" font-weight="bold" text-anchor="end" fill="#000" >0</text>
<line x1="274.6" y1="581.2" x2="274.6" y2="585.6" stroke="#000" stroke-width="1.05"/>
<text x="277.4" y="593.1" font-family="Liberation Sans, sans-serif" font-size="7.9" font-weight="bold" text-anchor="end" fill="#000" transform="rotate(-45 277.4 593.1)" >PBS</text>
<line x1="302.5" y1="581.2" x2="302.5" y2="585.6" stroke="#000" stroke-width="1.05"/>
<text x="305.3" y="593.1" font-family="Liberation Sans, sans-serif" font-size="7.9" font-weight="bold" text-anchor="end" fill="#000" transform="rotate(-45 305.3 593.1)" >3X MEU-Flag</text>
<line x1="330.6" y1="581.2" x2="330.6" y2="585.6" stroke="#000" stroke-width="1.05"/>
<text x="333.4" y="593.1" font-family="Liberation Sans, sans-serif" font-size="7.9" font-weight="bold" text-anchor="end" fill="#000" transform="rotate(-45 333.4 593.1)" >2X MEU-Flag + 1X MVA</text>
<line x1="358.6" y1="581.2" x2="358.6" y2="585.6" stroke="#000" stroke-width="1.05"/>
<text x="361.4" y="593.1" font-family="Liberation Sans, sans-serif" font-size="7.9" font-weight="bold" text-anchor="end" fill="#000" transform="rotate(-45 361.4 593.1)" >2X MVA</text>
<circle cx="274.8" cy="543.5" r="2.9" fill="#000"/>
<circle cx="272.0" cy="548.0" r="2.9" fill="#000"/>
<circle cx="274.9" cy="549.6" r="2.9" fill="#000"/>
<circle cx="277.7" cy="551.2" r="2.9" fill="#000"/>
<circle cx="276.3" cy="550.3" r="2.9" fill="#000"/>
<line x1="270.3" y1="549.3" x2="280.9" y2="549.3" stroke="#000" stroke-width="1.0"/>
<circle cx="300.1" cy="529.2" r="2.9" fill="#5ddf38"/>
<circle cx="302.5" cy="534.3" r="2.9" fill="#5ddf38"/>
<circle cx="305.4" cy="536.4" r="2.9" fill="#5ddf38"/>
<circle cx="301.3" cy="540.8" r="2.9" fill="#5ddf38"/>
<circle cx="303.8" cy="547.7" r="2.9" fill="#5ddf38"/>
<line x1="303.2" y1="531.9" x2="303.2" y2="544.8" stroke="#5ddf38" stroke-width="1.0"/>
<line x1="299.9" y1="531.9" x2="306.5" y2="531.9" stroke="#5ddf38" stroke-width="1.0"/>
<line x1="299.9" y1="544.8" x2="306.5" y2="544.8" stroke="#5ddf38" stroke-width="1.0"/>
<line x1="297.5" y1="537.9" x2="308.9" y2="537.9" stroke="#000" stroke-width="1.0"/>
<circle cx="327.9" cy="501.1" r="2.9" fill="#c733f5"/>
<circle cx="333.4" cy="506.2" r="2.9" fill="#c733f5"/>
<circle cx="327.9" cy="508.2" r="2.9" fill="#c733f5"/>
<circle cx="333.1" cy="515.4" r="2.9" fill="#c733f5"/>
<circle cx="330.6" cy="524.4" r="2.9" fill="#c733f5"/>
<line x1="330.6" y1="502.2" x2="330.6" y2="519.9" stroke="#c733f5" stroke-width="1.0"/>
<line x1="327.3" y1="502.2" x2="333.9" y2="502.2" stroke="#c733f5" stroke-width="1.0"/>
<line x1="327.3" y1="519.9" x2="333.9" y2="519.9" stroke="#c733f5" stroke-width="1.0"/>
<line x1="324.9" y1="511.1" x2="336.3" y2="511.1" stroke="#000" stroke-width="1.0"/>
<path d="M358.4 500.3 L361.3 505.5 L355.5 505.5Z" fill="#c8692a"/>
<path d="M355.9 509.9 L358.8 515.1 L353.0 515.1Z" fill="#c8692a"/>
<path d="M360.9 514.8 L363.8 520.0 L358.0 520.0Z" fill="#c8692a"/>
<path d="M358.6 512.9 L361.5 518.1 L355.7 518.1Z" fill="#c8692a"/>
<path d="M358.4 527.0 L361.3 532.2 L355.5 532.2Z" fill="#c8692a"/>
<line x1="358.6" y1="505.9" x2="358.6" y2="525.0" stroke="#c8692a" stroke-width="1.0"/>
<line x1="355.3" y1="505.9" x2="361.9" y2="505.9" stroke="#c8692a" stroke-width="1.0"/>
<line x1="355.3" y1="525.0" x2="361.9" y2="525.0" stroke="#c8692a" stroke-width="1.0"/>
<line x1="352.9" y1="515.4" x2="364.3" y2="515.4" stroke="#000" stroke-width="1.0"/>
<line x1="272.5" y1="480.6" x2="358.8" y2="480.6" stroke="#0c0c0c" stroke-width="1.3"/>
<polygon points="312.25,471.05 311.69,472.78 309.91,472.40 311.13,473.75 309.91,475.10 311.69,474.72 312.25,476.45 312.81,474.72 314.59,475.10 313.37,473.75 314.59,472.40 312.81,472.78" fill="#0a0a0a" stroke="#0a0a0a" stroke-width="0.35" stroke-linejoin="round"/>
<polygon points="318.35,471.05 317.79,472.78 316.01,472.40 317.23,473.75 316.01,475.10 317.79,474.72 318.35,476.45 318.91,474.72 320.69,475.10 319.47,473.75 320.69,472.40 318.91,472.78" fill="#0a0a0a" stroke="#0a0a0a" stroke-width="0.35" stroke-linejoin="round"/>
<line x1="272.5" y1="494.5" x2="329.6" y2="494.5" stroke="#0c0c0c" stroke-width="1.3"/>
<polygon points="298.55,485.35 297.99,487.08 296.21,486.70 297.43,488.05 296.21,489.40 297.99,489.02 298.55,490.75 299.11,489.02 300.89,489.40 299.67,488.05 300.89,486.70 299.11,487.08" fill="#0a0a0a" stroke="#0a0a0a" stroke-width="0.35" stroke-linejoin="round"/>
<polygon points="304.65,485.35 304.09,487.08 302.31,486.70 303.53,488.05 302.31,489.40 304.09,489.02 304.65,490.75 305.21,489.02 306.99,489.40 305.77,488.05 306.99,486.70 305.21,487.08" fill="#0a0a0a" stroke="#0a0a0a" stroke-width="0.35" stroke-linejoin="round"/>
<line x1="272.5" y1="523.4" x2="301.9" y2="523.4" stroke="#0c0c0c" stroke-width="1.3"/>
<text x="287.9" y="519.1" font-family="Liberation Sans, sans-serif" font-size="8.1"  text-anchor="middle" fill="#000" stroke="#000" stroke-width="0.12">ns</text>
<text x="240.8" y="531.2" font-family="Liberation Sans, sans-serif" font-size="9" font-weight="bold" text-anchor="middle" fill="#000" transform="rotate(-90 240.8 531.2)" >IL-2 Con. (pg/ml)</text>
<line x1="419.6" y1="479.4" x2="419.6" y2="581.7" stroke="#000" stroke-width="1.2"/>
<line x1="419.0" y1="581.1" x2="527.2" y2="581.1" stroke="#000" stroke-width="1.2"/>
<line x1="415.6" y1="479.9" x2="419.6" y2="479.9" stroke="#000" stroke-width="1.1"/>
<text x="414.4" y="482.6" font-family="Liberation Sans, sans-serif" font-size="7.6" font-weight="bold" text-anchor="end" fill="#000" >150</text>
<line x1="415.6" y1="513.8" x2="419.6" y2="513.8" stroke="#000" stroke-width="1.1"/>
<text x="414.4" y="516.5" font-family="Liberation Sans, sans-serif" font-size="7.6" font-weight="bold" text-anchor="end" fill="#000" >100</text>
<line x1="415.6" y1="547.5" x2="419.6" y2="547.5" stroke="#000" stroke-width="1.1"/>
<text x="414.4" y="550.2" font-family="Liberation Sans, sans-serif" font-size="7.6" font-weight="bold" text-anchor="end" fill="#000" >50</text>
<line x1="415.6" y1="581.1" x2="419.6" y2="581.1" stroke="#000" stroke-width="1.1"/>
<text x="414.4" y="583.8" font-family="Liberation Sans, sans-serif" font-size="7.6" font-weight="bold" text-anchor="end" fill="#000" >0</text>
<line x1="431.0" y1="581.1" x2="431.0" y2="585.5" stroke="#000" stroke-width="1.05"/>
<text x="433.8" y="593.0" font-family="Liberation Sans, sans-serif" font-size="7.9" font-weight="bold" text-anchor="end" fill="#000" transform="rotate(-45 433.8 593.0)" >PBS</text>
<line x1="459.0" y1="581.1" x2="459.0" y2="585.5" stroke="#000" stroke-width="1.05"/>
<text x="461.8" y="593.0" font-family="Liberation Sans, sans-serif" font-size="7.9" font-weight="bold" text-anchor="end" fill="#000" transform="rotate(-45 461.8 593.0)" >3X MEU-Flag</text>
<line x1="487.0" y1="581.1" x2="487.0" y2="585.5" stroke="#000" stroke-width="1.05"/>
<text x="489.8" y="593.0" font-family="Liberation Sans, sans-serif" font-size="7.9" font-weight="bold" text-anchor="end" fill="#000" transform="rotate(-45 489.8 593.0)" >2X MEU-Flag + 1X MVA</text>
<line x1="515.0" y1="581.1" x2="515.0" y2="585.5" stroke="#000" stroke-width="1.05"/>
<text x="517.8" y="593.0" font-family="Liberation Sans, sans-serif" font-size="7.9" font-weight="bold" text-anchor="end" fill="#000" transform="rotate(-45 517.8 593.0)" >2X MVA</text>
<circle cx="428.4" cy="559.1" r="2.9" fill="#000"/>
<circle cx="430.4" cy="563.6" r="2.9" fill="#000"/>
<circle cx="433.2" cy="565.2" r="2.9" fill="#000"/>
<circle cx="428.9" cy="564.9" r="2.9" fill="#000"/>
<circle cx="430.9" cy="577.5" r="2.9" fill="#000"/>
<line x1="430.8" y1="559.4" x2="430.8" y2="573.0" stroke="#666" stroke-width="1.0"/>
<line x1="427.5" y1="559.4" x2="434.1" y2="559.4" stroke="#666" stroke-width="1.0"/>
<line x1="427.5" y1="573.0" x2="434.1" y2="573.0" stroke="#666" stroke-width="1.0"/>
<line x1="425.4" y1="566.3" x2="436.2" y2="566.3" stroke="#000" stroke-width="1.0"/>
<circle cx="456.6" cy="525.7" r="2.9" fill="#5ddf38"/>
<circle cx="461.4" cy="526.6" r="2.9" fill="#5ddf38"/>
<circle cx="459.0" cy="534.6" r="2.9" fill="#5ddf38"/>
<circle cx="459.0" cy="542.7" r="2.9" fill="#5ddf38"/>
<circle cx="459.0" cy="551.8" r="2.9" fill="#5ddf38"/>
<line x1="459.0" y1="526.4" x2="459.0" y2="547.3" stroke="#5ddf38" stroke-width="1.0"/>
<line x1="455.7" y1="526.4" x2="462.3" y2="526.4" stroke="#5ddf38" stroke-width="1.0"/>
<line x1="455.7" y1="547.3" x2="462.3" y2="547.3" stroke="#5ddf38" stroke-width="1.0"/>
<line x1="453.3" y1="536.3" x2="464.7" y2="536.3" stroke="#000" stroke-width="1.0"/>
<circle cx="487.0" cy="495.3" r="2.9" fill="#c733f5"/>
<circle cx="487.0" cy="503.3" r="2.9" fill="#c733f5"/>
<circle cx="484.7" cy="509.0" r="2.9" fill="#c733f5"/>
<circle cx="489.4" cy="509.0" r="2.9" fill="#c733f5"/>
<circle cx="487.4" cy="512.5" r="2.9" fill="#c733f5"/>
<line x1="487.0" y1="499.3" x2="487.0" y2="513.3" stroke="#c733f5" stroke-width="1.0"/>
<line x1="483.7" y1="499.3" x2="490.3" y2="499.3" stroke="#c733f5" stroke-width="1.0"/>
<line x1="483.7" y1="513.3" x2="490.3" y2="513.3" stroke="#c733f5" stroke-width="1.0"/>
<line x1="481.2" y1="506.5" x2="492.8" y2="506.5" stroke="#000" stroke-width="1.0"/>
<path d="M515.1 501.1 L518.0 506.3 L512.2 506.3Z" fill="#c8692a"/>
<path d="M515.1 509.9 L518.0 515.1 L512.2 515.1Z" fill="#c8692a"/>
<path d="M512.7 520.3 L515.6 525.5 L509.8 525.5Z" fill="#c8692a"/>
<path d="M515.1 523.0 L518.0 528.2 L512.2 528.2Z" fill="#c8692a"/>
<path d="M517.5 524.3 L520.4 529.5 L514.6 529.5Z" fill="#c8692a"/>
<line x1="515.1" y1="508.1" x2="515.1" y2="527.7" stroke="#c8692a" stroke-width="1.0"/>
<line x1="511.8" y1="508.1" x2="518.4" y2="508.1" stroke="#c8692a" stroke-width="1.0"/>
<line x1="511.8" y1="527.7" x2="518.4" y2="527.7" stroke="#c8692a" stroke-width="1.0"/>
<line x1="509.3" y1="518.4" x2="520.9" y2="518.4" stroke="#000" stroke-width="1.0"/>
<line x1="428.2" y1="475.1" x2="514.9" y2="475.1" stroke="#0c0c0c" stroke-width="1.3"/>
<polygon points="465.70,465.75 465.14,467.48 463.36,467.10 464.58,468.45 463.36,469.80 465.14,469.42 465.70,471.15 466.26,469.42 468.04,469.80 466.82,468.45 468.04,467.10 466.26,467.48" fill="#0a0a0a" stroke="#0a0a0a" stroke-width="0.35" stroke-linejoin="round"/>
<polygon points="471.80,465.75 471.24,467.48 469.46,467.10 470.68,468.45 469.46,469.80 471.24,469.42 471.80,471.15 472.36,469.42 474.14,469.80 472.92,468.45 474.14,467.10 472.36,467.48" fill="#0a0a0a" stroke="#0a0a0a" stroke-width="0.35" stroke-linejoin="round"/>
<polygon points="477.90,465.75 477.34,467.48 475.56,467.10 476.78,468.45 475.56,469.80 477.34,469.42 477.90,471.15 478.46,469.42 480.24,469.80 479.02,468.45 480.24,467.10 478.46,467.48" fill="#0a0a0a" stroke="#0a0a0a" stroke-width="0.35" stroke-linejoin="round"/>
<line x1="429.0" y1="489.4" x2="486.0" y2="489.4" stroke="#0c0c0c" stroke-width="1.3"/>
<polygon points="451.80,479.45 451.24,481.18 449.46,480.80 450.68,482.15 449.46,483.50 451.24,483.12 451.80,484.85 452.36,483.12 454.14,483.50 452.92,482.15 454.14,480.80 452.36,481.18" fill="#0a0a0a" stroke="#0a0a0a" stroke-width="0.35" stroke-linejoin="round"/>
<polygon points="457.90,479.45 457.34,481.18 455.56,480.80 456.78,482.15 455.56,483.50 457.34,483.12 457.90,484.85 458.46,483.12 460.24,483.50 459.02,482.15 460.24,480.80 458.46,481.18" fill="#0a0a0a" stroke="#0a0a0a" stroke-width="0.35" stroke-linejoin="round"/>
<polygon points="464.00,479.45 463.44,481.18 461.66,480.80 462.88,482.15 461.66,483.50 463.44,483.12 464.00,484.85 464.56,483.12 466.34,483.50 465.12,482.15 466.34,480.80 464.56,481.18" fill="#0a0a0a" stroke="#0a0a0a" stroke-width="0.35" stroke-linejoin="round"/>
<line x1="428.6" y1="518.3" x2="458.4" y2="518.3" stroke="#0c0c0c" stroke-width="1.3"/>
<polygon points="443.80,508.25 443.24,509.98 441.46,509.60 442.68,510.95 441.46,512.30 443.24,511.92 443.80,513.65 444.36,511.92 446.14,512.30 444.92,510.95 446.14,509.60 444.36,509.98" fill="#0a0a0a" stroke="#0a0a0a" stroke-width="0.35" stroke-linejoin="round"/>
<text x="395.8" y="530.0" font-family="Liberation Sans, sans-serif" font-size="9" font-weight="bold" text-anchor="middle" fill="#000" transform="rotate(-90 395.8 530.0)" >IL-4 Con. (pg/ml)</text>
<rect x="460" y="460" width="24" height="7.4" fill="#fff"/>
<line x1="575.5" y1="477.0" x2="575.5" y2="579.1" stroke="#000" stroke-width="1.2"/>
<line x1="574.9" y1="578.5" x2="682.2" y2="578.5" stroke="#000" stroke-width="1.2"/>
<line x1="571.5" y1="477.9" x2="575.5" y2="477.9" stroke="#000" stroke-width="1.1"/>
<text x="570.3" y="480.6" font-family="Liberation Sans, sans-serif" font-size="7.6" font-weight="bold" text-anchor="end" fill="#000" >600</text>
<line x1="571.5" y1="511.5" x2="575.5" y2="511.5" stroke="#000" stroke-width="1.1"/>
<text x="570.3" y="514.2" font-family="Liberation Sans, sans-serif" font-size="7.6" font-weight="bold" text-anchor="end" fill="#000" >400</text>
<line x1="571.5" y1="544.9" x2="575.5" y2="544.9" stroke="#000" stroke-width="1.1"/>
<text x="570.3" y="547.6" font-family="Liberation Sans, sans-serif" font-size="7.6" font-weight="bold" text-anchor="end" fill="#000" >200</text>
<line x1="571.5" y1="578.6" x2="575.5" y2="578.6" stroke="#000" stroke-width="1.1"/>
<text x="570.3" y="581.3" font-family="Liberation Sans, sans-serif" font-size="7.6" font-weight="bold" text-anchor="end" fill="#000" >0</text>
<line x1="586.5" y1="578.5" x2="586.5" y2="582.9" stroke="#000" stroke-width="1.05"/>
<text x="589.3" y="590.4" font-family="Liberation Sans, sans-serif" font-size="7.9" font-weight="bold" text-anchor="end" fill="#000" transform="rotate(-45 589.3 590.4)" >PBS</text>
<line x1="614.6" y1="578.5" x2="614.6" y2="582.9" stroke="#000" stroke-width="1.05"/>
<text x="617.4" y="590.4" font-family="Liberation Sans, sans-serif" font-size="7.9" font-weight="bold" text-anchor="end" fill="#000" transform="rotate(-45 617.4 590.4)" >3X MEU-Flag</text>
<line x1="642.6" y1="578.5" x2="642.6" y2="582.9" stroke="#000" stroke-width="1.05"/>
<text x="645.4" y="590.4" font-family="Liberation Sans, sans-serif" font-size="7.9" font-weight="bold" text-anchor="end" fill="#000" transform="rotate(-45 645.4 590.4)" >2X MEU-Flag + 1X MVA</text>
<line x1="670.6" y1="578.5" x2="670.6" y2="582.9" stroke="#000" stroke-width="1.05"/>
<text x="673.4" y="590.4" font-family="Liberation Sans, sans-serif" font-size="7.9" font-weight="bold" text-anchor="end" fill="#000" transform="rotate(-45 673.4 590.4)" >2X MVA</text>
<circle cx="585.5" cy="553.3" r="2.9" fill="#000"/>
<circle cx="587.0" cy="556.8" r="2.9" fill="#000"/>
<circle cx="584.6" cy="559.8" r="2.9" fill="#000"/>
<circle cx="586.7" cy="562.8" r="2.9" fill="#000"/>
<circle cx="589.1" cy="565.8" r="2.9" fill="#000"/>
<line x1="581.0" y1="559.2" x2="592.0" y2="559.2" stroke="#000" stroke-width="1.0"/>
<circle cx="614.4" cy="527.9" r="2.9" fill="#5ddf38"/>
<circle cx="611.4" cy="531.5" r="2.9" fill="#5ddf38"/>
<circle cx="616.8" cy="536.0" r="2.9" fill="#5ddf38"/>
<circle cx="612.9" cy="539.0" r="2.9" fill="#5ddf38"/>
<circle cx="616.5" cy="546.4" r="2.9" fill="#5ddf38"/>
<line x1="614.4" y1="531.5" x2="614.4" y2="541.0" stroke="#5ddf38" stroke-width="1.0"/>
<line x1="611.1" y1="531.5" x2="617.7" y2="531.5" stroke="#5ddf38" stroke-width="1.0"/>
<line x1="611.1" y1="541.0" x2="617.7" y2="541.0" stroke="#5ddf38" stroke-width="1.0"/>
<line x1="608.4" y1="536.6" x2="620.4" y2="536.6" stroke="#000" stroke-width="1.0"/>
<circle cx="642.7" cy="498.1" r="2.9" fill="#c733f5"/>
<circle cx="642.7" cy="511.3" r="2.9" fill="#c733f5"/>
<circle cx="643.6" cy="521.1" r="2.9" fill="#c733f5"/>
<circle cx="640.6" cy="525.6" r="2.9" fill="#c733f5"/>
<circle cx="644.8" cy="531.5" r="2.9" fill="#c733f5"/>
<line x1="642.7" y1="504.7" x2="642.7" y2="530.0" stroke="#c733f5" stroke-width="1.0"/>
<line x1="639.4" y1="504.7" x2="646.0" y2="504.7" stroke="#c733f5" stroke-width="1.0"/>
<line x1="639.4" y1="530.0" x2="646.0" y2="530.0" stroke="#c733f5" stroke-width="1.0"/>
<line x1="636.7" y1="517.2" x2="648.7" y2="517.2" stroke="#000" stroke-width="1.0"/>
<path d="M668.0 489.3 L670.9 494.5 L665.1 494.5Z" fill="#c8692a"/>
<path d="M673.1 491.4 L676.0 496.6 L670.2 496.6Z" fill="#c8692a"/>
<path d="M668.9 498.8 L671.8 504.0 L666.0 504.0Z" fill="#c8692a"/>
<path d="M674.0 506.3 L676.9 511.5 L671.1 511.5Z" fill="#c8692a"/>
<path d="M671.0 527.1 L673.9 532.3 L668.1 532.3Z" fill="#c8692a"/>
<line x1="670.8" y1="490.4" x2="670.8" y2="520.5" stroke="#c8692a" stroke-width="1.0"/>
<line x1="667.5" y1="490.4" x2="674.1" y2="490.4" stroke="#c8692a" stroke-width="1.0"/>
<line x1="667.5" y1="520.5" x2="674.1" y2="520.5" stroke="#c8692a" stroke-width="1.0"/>
<line x1="665.1" y1="505.3" x2="676.5" y2="505.3" stroke="#000" stroke-width="1.0"/>
<line x1="582.5" y1="477.3" x2="670.1" y2="477.3" stroke="#0c0c0c" stroke-width="1.3"/>
<polygon points="620.20,468.05 619.64,469.78 617.86,469.40 619.08,470.75 617.86,472.10 619.64,471.72 620.20,473.45 620.76,471.72 622.54,472.10 621.32,470.75 622.54,469.40 620.76,469.78" fill="#0a0a0a" stroke="#0a0a0a" stroke-width="0.35" stroke-linejoin="round"/>
<polygon points="626.30,468.05 625.74,469.78 623.96,469.40 625.18,470.75 623.96,472.10 625.74,471.72 626.30,473.45 626.86,471.72 628.64,472.10 627.42,470.75 628.64,469.40 626.86,469.78" fill="#0a0a0a" stroke="#0a0a0a" stroke-width="0.35" stroke-linejoin="round"/>
<polygon points="632.40,468.05 631.84,469.78 630.06,469.40 631.28,470.75 630.06,472.10 631.84,471.72 632.40,473.45 632.96,471.72 634.74,472.10 633.52,470.75 634.74,469.40 632.96,469.78" fill="#0a0a0a" stroke="#0a0a0a" stroke-width="0.35" stroke-linejoin="round"/>
<line x1="582.5" y1="492.3" x2="643.3" y2="492.3" stroke="#0c0c0c" stroke-width="1.3"/>
<polygon points="606.80,482.85 606.24,484.58 604.46,484.20 605.68,485.55 604.46,486.90 606.24,486.52 606.80,488.25 607.36,486.52 609.14,486.90 607.92,485.55 609.14,484.20 607.36,484.58" fill="#0a0a0a" stroke="#0a0a0a" stroke-width="0.35" stroke-linejoin="round"/>
<polygon points="612.90,482.85 612.34,484.58 610.56,484.20 611.78,485.55 610.56,486.90 612.34,486.52 612.90,488.25 613.46,486.52 615.24,486.90 614.02,485.55 615.24,484.20 613.46,484.58" fill="#0a0a0a" stroke="#0a0a0a" stroke-width="0.35" stroke-linejoin="round"/>
<polygon points="619.00,482.85 618.44,484.58 616.66,484.20 617.88,485.55 616.66,486.90 618.44,486.52 619.00,488.25 619.56,486.52 621.34,486.90 620.12,485.55 621.34,484.20 619.56,484.58" fill="#0a0a0a" stroke="#0a0a0a" stroke-width="0.35" stroke-linejoin="round"/>
<line x1="583.1" y1="520.5" x2="614.4" y2="520.5" stroke="#0c0c0c" stroke-width="1.3"/>
<polygon points="599.20,511.25 598.64,512.98 596.86,512.60 598.08,513.95 596.86,515.30 598.64,514.92 599.20,516.65 599.76,514.92 601.54,515.30 600.32,513.95 601.54,512.60 599.76,512.98" fill="#0a0a0a" stroke="#0a0a0a" stroke-width="0.35" stroke-linejoin="round"/>
<text x="548.5" y="528.6" font-family="Liberation Sans, sans-serif" font-size="9" font-weight="bold" text-anchor="middle" fill="#000" transform="rotate(-90 548.5 528.6)" >IL-10 Con. (pg/ml)</text>
</svg>
</body></html>
